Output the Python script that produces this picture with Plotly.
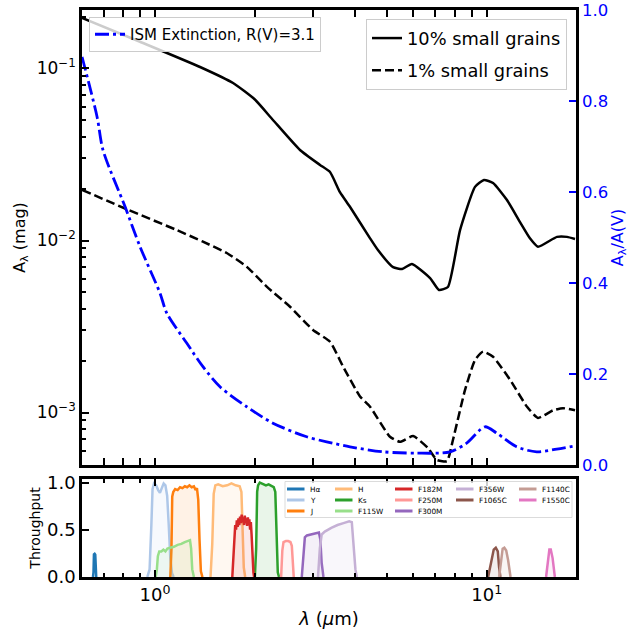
import plotly.graph_objects as go

# ---------------- extinction curves ----------------
wave_10pct = [0.6025, 0.901, 1.367, 1.719, 2.0, 2.268, 2.736, 3.144, 3.37, 3.61, 3.87,
              4.45, 4.70, 5.22, 5.56, 5.95, 6.75, 7.18, 7.64, 8.31, 9.22,
              9.81, 10.45, 11.51, 12.60, 13.5, 14.28, 16.29, 17.46, 18.46]
ext_10pct = [0.197, 0.143, 0.102, 0.0823, 0.066, 0.0502, 0.0336, 0.0275, 0.0250, 0.0191, 0.0157,
             0.0103, 0.0088, 0.0070, 0.00683, 0.0073, 0.00605, 0.00516, 0.00537, 0.0115, 0.0205,
             0.0225, 0.0216, 0.0172, 0.0128, 0.0103, 0.0092, 0.0105, 0.0105, 0.0102]

wave_1pct = [0.6025, 0.822, 1.163, 1.395, 1.645, 1.89, 2.172, 2.553, 2.995, 3.37,
             3.69, 4.15, 4.45, 5.11, 5.48, 6.0, 6.65, 7.08, 7.59, 7.91,
             8.60, 9.22, 9.75, 10.45, 11.76, 13.23, 14.28, 15.85, 16.98, 18.46]
ext_1pct = [0.0197, 0.0152, 0.0115, 0.00984, 0.00846, 0.00704, 0.00539, 0.00412, 0.00302, 0.00258,
            0.00185, 0.00124, 0.00108, 0.000723, 0.000676, 0.00073, 0.000622, 0.00053, 0.000522, 0.000692,
            0.00135, 0.00202, 0.00226, 0.00211, 0.00155, 0.00108, 0.00093, 0.00103, 0.00106, 0.00103]

wave_ism = [0.6025, 0.669, 0.697, 0.812, 0.901, 1.035, 1.085, 1.246, 1.395, 1.570,
            1.89, 2.268, 2.866, 3.293, 3.87, 4.87, 6.15, 7.75, 8.70, 9.88,
            10.72, 12.31, 14.15, 16.26, 18.46]
ism_ratio = [0.897, 0.765, 0.692, 0.568, 0.480, 0.378, 0.334, 0.268, 0.216, 0.172,
             0.128, 0.092, 0.062, 0.051, 0.040, 0.029, 0.026, 0.029, 0.048, 0.084,
             0.070, 0.040, 0.029, 0.035, 0.042]

# ---------------- filter throughputs ----------------
filter_names = ["Hα", "Y", "J", "H", "Ks", "F115W", "F182M", "F250M", "F300M",
                "F356W", "F1065C", "F1140C", "F1550C"]
filter_colors = ["#1f77b4", "#aec7e8", "#ff7f0e", "#ffbb78", "#2ca02c", "#98df8a", "#d62728",
                 "#ff9896", "#9467bd", "#c5b0d5", "#8c564b", "#c49c94", "#e377c2"]

wave_ha = [0.650, 0.6525, 0.6545, 0.6575, 0.6605, 0.6625, 0.665]
tp_ha = [0, 0.05, 0.24, 0.245, 0.235, 0.05, 0]

wave_y = [0.948, 0.963, 0.975, 0.983, 0.993, 1.008, 1.022, 1.035, 1.048, 1.062,
          1.075, 1.088, 1.100, 1.112, 1.125, 1.138]
tp_y = [0, 0.08, 0.55, 0.93, 0.99, 0.97, 0.92, 0.89, 0.94, 0.99,
        0.97, 0.86, 0.55, 0.2, 0.04, 0]

wave_j = [1.112, 1.121, 1.127, 1.135, 1.15, 1.17, 1.19, 1.21, 1.23, 1.25,
          1.27, 1.29, 1.31, 1.325, 1.338, 1.35, 1.362, 1.375, 1.39]
tp_j = [0, 0.3, 0.85, 0.9, 0.93, 0.92, 0.95, 0.94, 0.96, 0.95,
        0.97, 0.95, 0.96, 0.92, 0.94, 0.82, 0.4, 0.06, 0]

wave_h = [1.47, 1.488, 1.503, 1.52, 1.55, 1.6, 1.65, 1.7, 1.75, 1.8,
          1.822, 1.838, 1.852, 1.87]
tp_h = [0, 0.35, 0.88, 0.97, 0.98, 0.96, 0.97, 0.99, 0.97, 0.96,
        0.9, 0.5, 0.1, 0]

wave_ks = [2.0, 2.018, 2.032, 2.045, 2.07, 2.1, 2.13, 2.16, 2.2, 2.24,
           2.28, 2.305, 2.325, 2.345, 2.365]
tp_ks = [0, 0.3, 0.9, 0.97, 1.0, 0.99, 0.98, 0.97, 0.98, 0.96,
         0.95, 0.9, 0.45, 0.05, 0]

wave_f115w = [1.005, 1.013, 1.02, 1.03, 1.045, 1.06, 1.075, 1.09, 1.11, 1.14,
              1.17, 1.2, 1.23, 1.255, 1.275, 1.285, 1.295, 1.31]
tp_f115w = [0, 0.08, 0.22, 0.27, 0.27, 0.29, 0.27, 0.3, 0.31, 0.32,
            0.34, 0.35, 0.37, 0.38, 0.39, 0.3, 0.08, 0]

wave_f182m = [1.71, 1.72, 1.732, 1.745, 1.755, 1.765, 1.775, 1.785, 1.795, 1.805,
              1.815, 1.825, 1.835, 1.845, 1.855, 1.865, 1.875, 1.885, 1.895, 1.905,
              1.915, 1.925, 1.935, 1.945, 1.955, 1.965, 1.98, 1.99]
tp_f182m = [0, 0.15, 0.45, 0.55, 0.5, 0.6, 0.53, 0.62, 0.55, 0.64,
            0.57, 0.66, 0.58, 0.63, 0.55, 0.65, 0.57, 0.62, 0.54, 0.63,
            0.56, 0.61, 0.5, 0.58, 0.45, 0.25, 0.05, 0]

wave_f250m = [2.40, 2.42, 2.44, 2.48, 2.52, 2.56, 2.585, 2.60, 2.62]
tp_f250m = [0, 0.28, 0.37, 0.38, 0.38, 0.37, 0.33, 0.12, 0]

wave_f300m = [2.77, 2.80, 2.83, 2.87, 2.95, 3.05, 3.12, 3.15, 3.18, 3.22]
tp_f300m = [0, 0.2, 0.42, 0.44, 0.45, 0.46, 0.47, 0.4, 0.15, 0]

wave_f356w = [3.10, 3.14, 3.18, 3.25, 3.4, 3.55, 3.7, 3.85, 3.92, 3.97, 4.02, 4.06]
tp_f356w = [0, 0.3, 0.45, 0.48, 0.52, 0.55, 0.57, 0.59, 0.58, 0.35, 0.08, 0]

wave_f1065c = [10.1, 10.3, 10.5, 10.65, 10.8, 10.9, 11.0]
tp_f1065c = [0, 0.15, 0.29, 0.31, 0.27, 0.1, 0]

wave_f1140c = [10.9, 11.05, 11.17, 11.3, 11.45, 11.6, 11.8]
tp_f1140c = [0, 0.2, 0.3, 0.31, 0.28, 0.18, 0]

wave_f1550c = [15.1, 15.3, 15.45, 15.6, 15.8, 16.05]
tp_f1550c = [0, 0.2, 0.29, 0.29, 0.2, 0]

filter_curves = {
    "Hα": (wave_ha, tp_ha), "Y": (wave_y, tp_y), "J": (wave_j, tp_j),
    "H": (wave_h, tp_h), "Ks": (wave_ks, tp_ks), "F115W": (wave_f115w, tp_f115w),
    "F182M": (wave_f182m, tp_f182m), "F250M": (wave_f250m, tp_f250m),
    "F300M": (wave_f300m, tp_f300m), "F356W": (wave_f356w, tp_f356w),
    "F1065C": (wave_f1065c, tp_f1065c), "F1140C": (wave_f1140c, tp_f1140c),
    "F1550C": (wave_f1550c, tp_f1550c),
}

# ---------------- figure geometry (pixels) ----------------
W, H = 629, 629
ML, MR, MT, MB = 82, 53, 10, 52
PW, PH = W - ML - MR, H - MT - MB
TOP_BOTTOM_PX, BOT_TOP_PX = 465, 479


def fx(p):
    return (p - ML) / PW


def fy(p):
    return (H - MB - p) / PH


def hex_rgba(h, a):
    h = h.lstrip("#")
    return f"rgba({int(h[0:2], 16)},{int(h[2:4], 16)},{int(h[4:6], 16)},{a})"


FONT = "DejaVu Sans"
fig = go.Figure()

fig.add_trace(go.Scatter(x=wave_10pct, y=ext_10pct, mode="lines", name="10% small grains",
                         line=dict(color="black", width=2.5, shape="spline", smoothing=0.5),
                         xaxis="x", yaxis="y", legend="legend2", legendgroup="a"))
fig.add_trace(go.Scatter(x=wave_1pct, y=ext_1pct, mode="lines", name="1% small grains",
                         line=dict(color="black", width=2.5, dash="9px,4px", shape="spline",
                                   smoothing=0.5),
                         xaxis="x", yaxis="y", legend="legend2", legendgroup="b"))
fig.add_trace(go.Scatter(x=wave_ism, y=ism_ratio, mode="lines", name="ISM Extinction, R(V)=3.1",
                         line=dict(color="blue", width=2.8, dash="14px,4px,3px,4px",
                                   shape="spline", smoothing=0.8),
                         xaxis="x", yaxis="y2", legend="legend"))

for name, color in zip(filter_names, filter_colors):
    wl, tp = filter_curves[name]
    fig.add_trace(go.Scatter(x=wl, y=tp, mode="lines", fill="tozeroy",
                             fillcolor=hex_rgba(color, 0.1), line=dict(width=0, color=color),
                             xaxis="x2", yaxis="y3", showlegend=False, hoverinfo="skip"))
    fig.add_trace(go.Scatter(x=wl, y=tp, mode="lines", name=name,
                             line=dict(color=color, width=2.5),
                             xaxis="x2", yaxis="y3", showlegend=False))

# ---------------- compact filter legend (5 columns filled column by column) ----------------
col_px = [287, 335, 395, 456, 519]
row_px = [489, 500, 511]
col_sizes = [3, 3, 3, 2, 2]
slots = [(c, r) for c, n in enumerate(col_sizes) for r in range(n)]

shapes = [dict(type="rect", xref="paper", yref="paper", x0=fx(285), x1=fx(572),
               y0=fy(517.5), y1=fy(481.5), fillcolor="rgba(255,255,255,0.8)",
               line=dict(color="rgba(210,210,210,0.8)", width=1), layer="above")]
annotations = []
for (name, color), (c, r) in zip(zip(filter_names, filter_colors), slots):
    x0 = col_px[c]
    yv = row_px[r]
    shapes.append(dict(type="line", xref="paper", yref="paper", x0=fx(x0), x1=fx(x0 + 17.5),
                       y0=fy(yv), y1=fy(yv), line=dict(color=color, width=3), layer="above"))
    annotations.append(dict(text=name, xref="paper", yref="paper", x=fx(x0 + 21), y=fy(yv),
                            xanchor="left", yanchor="middle", showarrow=False,
                            font=dict(family=FONT, size=7.3, color="black")))

x_minor = [0.7, 0.8, 0.9, 2, 3, 4, 5, 6, 7, 8, 9]
y_minor = [m * 10 ** e for e in (-4, -3, -2, -1) for m in range(2, 10)]
xrange_log = [-0.2201, 1.2692]

axis_common = dict(showline=True, linecolor="black", linewidth=2.5, showgrid=False,
                   zeroline=False, ticks="inside", tickcolor="black", tickwidth=2, ticklen=7,
                   automargin=False)

fig.update_layout(
    width=W, height=H, autosize=False,
    margin=dict(l=ML, r=MR, t=MT, b=MB, pad=0),
    paper_bgcolor="white", plot_bgcolor="white",
    font=dict(family=FONT, color="black", size=16),
    xaxis=dict(**axis_common, type="log", range=xrange_log, domain=[0, 1], anchor="y",
               mirror="allticks", showticklabels=False, tickvals=[1, 10],
               minor=dict(ticks="inside", ticklen=4, tickwidth=1.5, tickcolor="black",
                          tickvals=x_minor)),
    yaxis=dict(**axis_common, type="log", range=[-3.305, -0.660],
               domain=[fy(TOP_BOTTOM_PX), 1], anchor="x",
               tickvals=[1e-3, 1e-2, 1e-1],
               ticktext=["10<sup>−3</sup>", "10<sup>−2</sup>", "10<sup>−1</sup>"],
               tickfont=dict(family=FONT, size=17, color="black"),
               minor=dict(ticks="inside", ticklen=4, tickwidth=1.5, tickcolor="black",
                          tickvals=y_minor),
               title=dict(text="A<sub>λ</sub> (mag)", font=dict(family=FONT, size=16), standoff=8)),
    yaxis2=dict(showline=True, linecolor="black", linewidth=2.5, showgrid=False, zeroline=False,
                overlaying="y", side="right", anchor="x", range=[0, 1], automargin=False,
                tickvals=[0, 0.2, 0.4, 0.6, 0.8, 1.0],
                ticktext=["0.0", "0.2", "0.4", "0.6", "0.8", "1.0"],
                ticks="inside", tickcolor="blue", tickwidth=2, ticklen=7,
                tickfont=dict(family=FONT, size=16.5, color="blue"),
                title=dict(text="A<sub>λ</sub>/A(V)", font=dict(family=FONT, size=16, color="blue"),
                           standoff=8)),
    xaxis2=dict(**axis_common, type="log", range=xrange_log, domain=[0, 1], anchor="y3",
                matches="x", mirror="allticks", tickvals=[1, 10],
                ticktext=["10<sup>0</sup>", "10<sup>1</sup>"],
                tickfont=dict(family=FONT, size=18, color="black"),
                minor=dict(ticks="inside", ticklen=4, tickwidth=1.5, tickcolor="black",
                           tickvals=x_minor),
                title=dict(text="<i>λ</i> (<i>μ</i>m)", font=dict(family=FONT, size=18), standoff=10)),
    yaxis3=dict(**axis_common, range=[0, 1.037], domain=[0, fy(BOT_TOP_PX)], anchor="x2",
                mirror=True, tickvals=[0, 0.5, 1.0], ticktext=["0.0", "0.5", "1.0"],
                tickfont=dict(family=FONT, size=18, color="black"),
                title=dict(text="Throughput", font=dict(family=FONT, size=14), standoff=4)),
    legend=dict(x=fx(89), y=fy(17), xanchor="left", yanchor="top",
                bgcolor="rgba(255,255,255,0.8)", bordercolor="#cccccc", borderwidth=1,
                font=dict(size=15, family=FONT)),
    legend2=dict(x=fx(567), y=fy(19), xanchor="right", yanchor="top",
                 bgcolor="rgba(255,255,255,0.8)", bordercolor="#cccccc", borderwidth=1,
                 font=dict(size=17.8, family=FONT), tracegroupgap=6),
    shapes=shapes,
    annotations=annotations,
)

fig.write_html("out.html")
